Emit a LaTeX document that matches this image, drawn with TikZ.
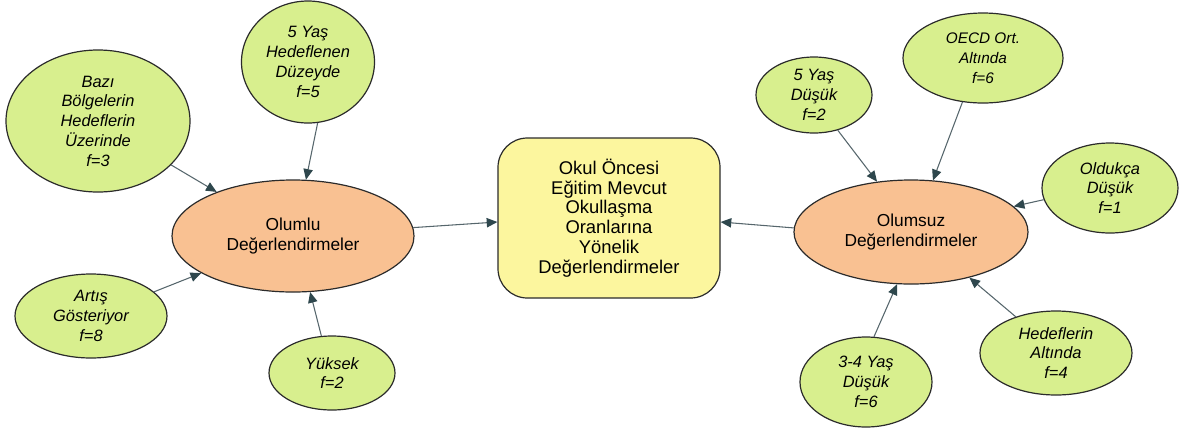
\documentclass[tikz,border=0pt]{standalone}
\usepackage{fontspec}
\setmainfont{Liberation Sans}
\usetikzlibrary{shapes.geometric,arrows.meta}
\definecolor{leaf}{HTML}{D8EF8E}
\definecolor{peach}{HTML}{F9C192}
\definecolor{butter}{HTML}{FCF69E}
\definecolor{rim}{HTML}{2B2B2B}
\definecolor{wire}{HTML}{56666C}
\definecolor{tip}{HTML}{2E474D}
\tikzset{
  base/.style={draw=rim, line width=0.9pt, align=center, inner sep=0pt},
  leafnode/.style={base, ellipse, fill=leaf, font=\fontsize{12.3pt}{14.8pt}\selectfont\itshape},
  hubnode/.style={base, ellipse, fill=peach, font=\fontsize{13pt}{15pt}\selectfont},
  corenode/.style={base, rectangle, rounded corners=22pt, fill=butter,
    font=\fontsize{13.8pt}{14.8pt}\selectfont},
  link/.style={draw=wire, line width=0.8pt, -{Triangle[length=8pt,width=7pt,fill=tip,color=tip]}},
}
\begin{document}
\begin{tikzpicture}[x=0.75pt,y=-0.75pt]
\useasboundingbox (0,0) rectangle (1179,430);

% central box
\node[corenode, minimum width=222*0.75pt, minimum height=160*0.75pt] (core) at (609,218)
  {Okul Öncesi\\Eğitim Mevcut\\Okullaşma\\Oranlarına\\Yönelik\\Değerlendirmeler};

% positive side
\node[hubnode, minimum width=242*0.75pt, minimum height=112*0.75pt] (pos) at (293,236)
  {Olumlu\\Değerlendirmeler};
\node[leafnode, minimum width=184*0.75pt, minimum height=142*0.75pt] (p1) at (98,121)
  {Bazı\\Bölgelerin\\Hedeflerin\\Üzerinde\\f=3};
\node[leafnode, minimum width=133*0.75pt, minimum height=122*0.75pt] (p2) at (308,62)
  {5 Yaş\\Hedeflenen\\Düzeyde\\f=5};
\node[leafnode, minimum width=152*0.75pt, minimum height=84*0.75pt] (p3) at (91,316)
  {Artış\\Gösteriyor\\f=8};
\node[leafnode, minimum width=126*0.75pt, minimum height=74*0.75pt] (p4) at (332,373)
  {Yüksek\\f=2};

% negative side
\node[hubnode, minimum width=234*0.75pt, minimum height=104*0.75pt] (neg) at (911,232)
  {Olumsuz\\Değerlendirmeler};
\node[leafnode, minimum width=116*0.75pt, minimum height=76*0.75pt] (n1) at (814,95)
  {5 Yaş\\Düşük\\f=2};
\node[leafnode, minimum width=160*0.75pt, minimum height=90*0.75pt,
      font=\fontsize{11.5pt}{14.8pt}\selectfont\itshape] (n2) at (983,58)
  {OECD Ort.\\Altında\\f=6};
\node[leafnode, minimum width=136*0.75pt, minimum height=90*0.75pt] (n3) at (1110,188)
  {Oldukça\\Düşük\\f=1};
\node[leafnode, minimum width=152*0.75pt, minimum height=84*0.75pt] (n4) at (1056,353)
  {Hedeflerin\\Altında\\f=4};
\node[leafnode, minimum width=132*0.75pt, minimum height=90*0.75pt] (n5) at (866,382)
  {3-4 Yaş\\Düşük\\f=6};

% connectors
\draw[link] (p1.-31) -- (pos.150);
\draw[link] (p2.-81) -- (pos.77);
\draw[link] (p3.21) -- (pos.202);
\draw[link] (p4.106) -- (pos.-73);
\draw[link] (pos.4) -- (core.west |- 0,222);
\draw[link] (neg.178) -- (core.east |- 0,222);
\draw[link] (n1.-56) -- (neg.124);
\draw[link] (n2.-115) -- (neg.67);
\draw[link] (n3.190) -- (neg.14);
\draw[link] (n4.138) -- (neg.-38);
\draw[link] (n5.80) -- (neg.-105);
\end{tikzpicture}
\end{document}
